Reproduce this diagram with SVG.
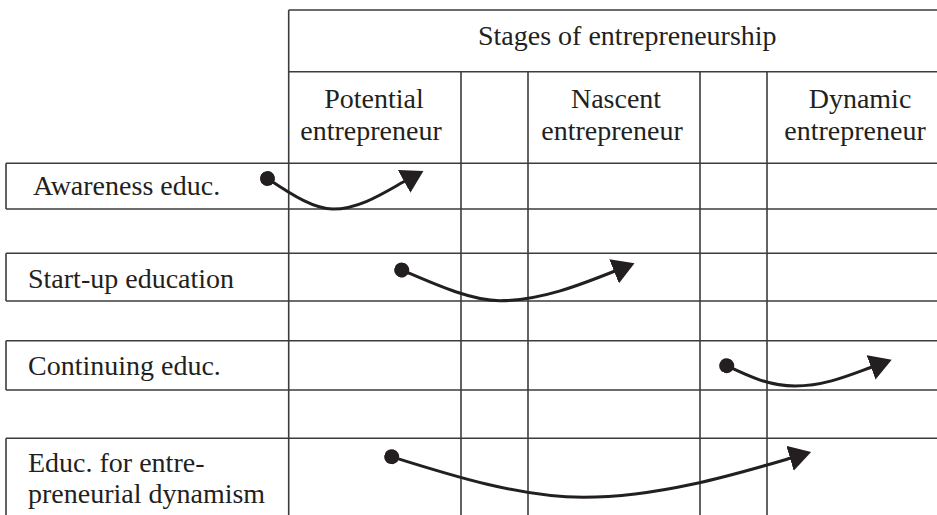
<svg xmlns="http://www.w3.org/2000/svg" width="937" height="515" viewBox="0 0 937 515">
<style>
.bg{fill:#ffffff}
.grid{stroke:#3c3c3c;stroke-width:1.6;fill:none}
.t{font-family:"Liberation Serif","Times New Roman",serif;font-size:28px;fill:#231f20}
.c{text-anchor:middle}
.arrow{stroke:#231f20;stroke-width:3;fill:none;marker-start:url(#dot);marker-end:url(#head)}
</style>
<defs>
<marker id="head" markerUnits="userSpaceOnUse" viewBox="0 0 22 26" markerWidth="22" markerHeight="26" refX="1" refY="13" orient="auto">
<path d="M0,0 L22,13 L0,26 Z" fill="#231f20"/>
</marker>
<marker id="dot" markerUnits="userSpaceOnUse" viewBox="0 0 15 15" markerWidth="15" markerHeight="15" refX="7.5" refY="7.5" orient="auto">
<circle cx="7.5" cy="7.5" r="7.5" fill="#231f20"/>
</marker>
</defs>
<rect class="bg" x="0" y="0" width="937" height="515"/>

<g id="grid" class="grid">
<path d="M288.7,10 H937 M288.7,71.7 H937"/>
<path d="M6,163.3 H937 M6,209 H937 M6,253.3 H937 M6,301 H937 M6,340.7 H937 M6,390 H937 M6,438.3 H937"/>
<path d="M288.7,10 V515 M461,71.7 V515 M528,71.7 V515 M700,71.7 V515 M767,71.7 V515"/>
<path d="M6,163.3 V209 M6,253.3 V301 M6,340.7 V390 M6,438.3 V515"/>
</g>

<g id="header">
<text class="t" x="478" y="45">Stages of entrepreneurship</text>
</g>
<g id="stage-potential">
<text class="t c" x="374" y="108">Potential</text>
<text class="t c" x="371" y="140">entrepreneur</text>
</g>
<g id="stage-nascent">
<text class="t c" x="616" y="108">Nascent</text>
<text class="t c" x="612" y="140">entrepreneur</text>
</g>
<g id="stage-dynamic">
<text class="t c" x="860" y="108">Dynamic</text>
<text class="t c" x="855" y="140">entrepreneur</text>
</g>

<g id="row-awareness">
<text class="t" x="33" y="195">Awareness educ.</text>
</g>
<g id="row-startup">
<text class="t" x="28" y="288">Start-up education</text>
</g>
<g id="row-continuing">
<text class="t" x="28" y="375">Continuing educ.</text>
</g>
<g id="row-dynamism">
<text class="t" x="28" y="472">Educ. for entre-</text>
<text class="t" x="28" y="503">preneurial dynamism</text>
</g>

<g id="connectors">
<path class="arrow" d="M267.5,178.5 C295,197 315,209 333,209 C360,209 385,192 405,181"/>
<path class="arrow" d="M401.7,270 C430,282 470,300.7 500,300.7 C540,300.7 580,285 615,271"/>
<path class="arrow" d="M726.7,365.7 C750,377 770,386 795,386 C825,386 850,375 872,367"/>
<path class="arrow" d="M391.7,456.7 C450,475 520,497.3 583.3,497.3 C660,497.3 740,473 791,458"/>
</g>
</svg>
